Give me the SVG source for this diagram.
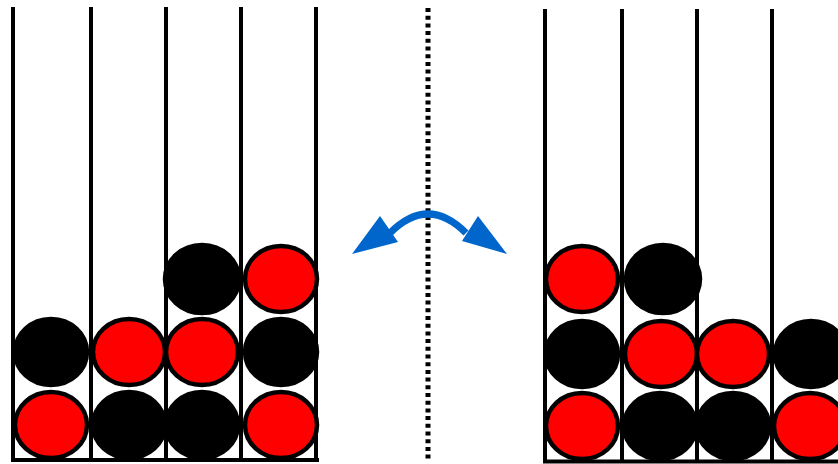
<svg xmlns="http://www.w3.org/2000/svg" width="838" height="464" viewBox="0 0 838 464">
<defs>
<style>
.rail{stroke:#000;stroke-width:4;fill:none}
.r{fill:#ff0000;stroke:#000;stroke-width:4.5}
.b{fill:#000;stroke:#000;stroke-width:4.5}
</style>
</defs>
<rect width="838" height="464" fill="#fff"/>
<g id="left-board">
<path class="rail" d="M13 7V461M91 7V461M166 7V461M241 7V461M316 7V461M11 460H319"/>
<g id="left-pieces">
<ellipse class="r" cx="51" cy="425" rx="36" ry="33"/>
<ellipse class="b" cx="51" cy="352" rx="36" ry="33"/>
<ellipse class="b" cx="129" cy="425" rx="36" ry="33"/>
<ellipse class="r" cx="129" cy="352" rx="36" ry="33"/>
<ellipse class="b" cx="202" cy="425" rx="36" ry="33"/>
<ellipse class="r" cx="202" cy="352" rx="36" ry="33"/>
<ellipse class="b" cx="202" cy="279" rx="37" ry="34"/>
<ellipse class="r" cx="281" cy="425" rx="36" ry="33"/>
<ellipse class="b" cx="281" cy="352" rx="36" ry="33"/>
<ellipse class="r" cx="281" cy="279" rx="36" ry="33"/>
</g>
</g>
<g id="divider">
<line x1="428" y1="8" x2="428" y2="460" stroke="#000" stroke-width="5" stroke-dasharray="4,3.7"/>
</g>
<g id="connectors">
<path d="M390 233 Q428 195 466 233" fill="none" stroke="#0066cc" stroke-width="7"/>
<polygon points="352,254 380,216 398,242" fill="#0066cc"/>
<polygon points="507,254 478,216 462,241" fill="#0066cc"/>
</g>
<g id="right-board">
<path class="rail" d="M545 9V462M622 9V462M697 9V462M772 9V462M543 461.5H838"/>
<g id="right-pieces">
<ellipse class="r" cx="582" cy="426" rx="36" ry="33"/>
<ellipse class="b" cx="582" cy="354" rx="36" ry="33"/>
<ellipse class="r" cx="582" cy="279" rx="36" ry="33"/>
<ellipse class="b" cx="660" cy="426" rx="36" ry="33"/>
<ellipse class="r" cx="661" cy="354" rx="36" ry="33"/>
<ellipse class="b" cx="663" cy="279" rx="37" ry="34"/>
<ellipse class="b" cx="733" cy="426" rx="36" ry="33"/>
<ellipse class="r" cx="733" cy="354" rx="36" ry="33"/>
<ellipse class="r" cx="810" cy="426" rx="36" ry="33"/>
<ellipse class="b" cx="811" cy="354" rx="36" ry="33"/>
</g>
</g>
</svg>
